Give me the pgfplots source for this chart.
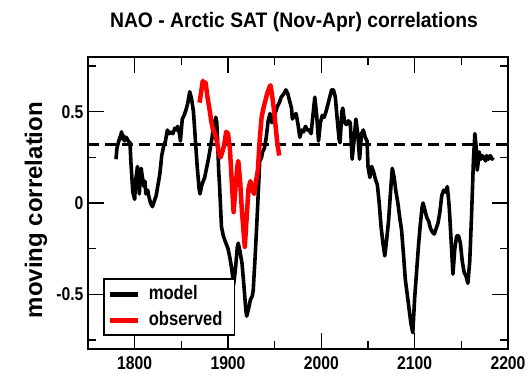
\documentclass[border=0pt]{standalone}
\usepackage{pgfplots}
\pgfplotsset{compat=1.18}
\usepackage{fontspec}
\setmainfont{Liberation Sans}
\newfontfamily\condfont{Liberation Sans}[FakeStretch=0.85]
\newfontfamily\titlefont{Liberation Sans}[FakeStretch=0.92]

\pgfplotstableread{
year r
1780 0.24
1781 0.30
1783 0.34
1785 0.37
1786 0.39
1787 0.35
1788 0.37
1789 0.34
1791 0.36
1793 0.34
1795 0.33
1796 0.22
1798 0.06
1800 0.02
1801 0.12
1803 0.20
1804 0.12
1805 0.05
1806 0.14
1807 0.19
1808 0.15
1810 0.09
1811 0.12
1812 0.05
1814 0.07
1815 0.04
1817 0.00
1819 -0.02
1821 0.01
1823 0.04
1825 0.10
1827 0.16
1829 0.26
1831 0.31
1833 0.34
1835 0.40
1837 0.38
1839 0.39
1841 0.38
1843 0.41
1845 0.40
1846 0.42
1848 0.38
1849 0.34
1851 0.46
1853 0.48
1855 0.51
1857 0.55
1859 0.61
1861 0.57
1863 0.50
1865 0.35
1867 0.20
1869 0.08
1870 0.05
1872 0.10
1875 0.14
1877 0.19
1879 0.24
1881 0.30
1883 0.36
1885 0.45
1886 0.42
1887 0.47
1888 0.44
1889 0.32
1890 0.18
1891 0.09
1893 -0.13
1895 -0.18
1897 -0.21
1900 -0.25
1902 -0.30
1904 -0.36
1906 -0.45
1908 -0.36
1910 -0.24
1911 -0.22
1913 -0.27
1915 -0.33
1917 -0.45
1919 -0.58
1920 -0.62
1922 -0.58
1924 -0.53
1926 -0.51
1927 -0.48
1929 -0.30
1931 -0.10
1933 0.12
1934 0.23
1936 0.25
1937 0.28
1939 0.30
1941 0.36
1943 0.45
1945 0.49
1947 0.44
1949 0.47
1951 0.50
1953 0.53
1955 0.55
1957 0.58
1960 0.60
1962 0.62
1964 0.60
1966 0.56
1968 0.52
1969 0.46
1971 0.48
1973 0.49
1975 0.43
1977 0.36
1979 0.40
1981 0.39
1983 0.42
1985 0.40
1987 0.40
1989 0.38
1991 0.48
1993 0.58
1995 0.48
1997 0.34
1999 0.44
2001 0.48
2003 0.47
2005 0.50
2007 0.54
2009 0.58
2011 0.62
2013 0.62
2015 0.58
2017 0.46
2019 0.35
2020 0.33
2022 0.50
2023 0.52
2025 0.44
2027 0.43
2029 0.45
2031 0.44
2033 0.24
2035 0.34
2037 0.46
2039 0.38
2041 0.24
2043 0.38
2045 0.40
2047 0.36
2049 0.34
2050 0.20
2052 0.14
2054 0.20
2056 0.17
2058 0.13
2060 0.10
2062 0.00
2064 -0.13
2066 -0.22
2068 -0.29
2070 -0.20
2072 -0.10
2074 0.05
2076 0.19
2078 0.14
2080 0.06
2082 0.00
2084 -0.08
2086 -0.15
2088 -0.28
2090 -0.42
2092 -0.50
2094 -0.58
2096 -0.66
2098 -0.71
2100 -0.52
2102 -0.38
2104 -0.24
2106 -0.12
2108 -0.02
2109 0.00
2111 -0.04
2113 -0.08
2115 -0.10
2117 -0.14
2119 -0.16
2121 -0.17
2123 -0.14
2125 -0.11
2127 -0.05
2129 0.04
2131 0.07
2133 0.06
2135 0.09
2137 -0.02
2139 -0.20
2141 -0.39
2143 -0.25
2145 -0.18
2147 -0.18
2149 -0.22
2151 -0.32
2153 -0.38
2155 -0.40
2157 -0.44
2159 -0.32
2161 -0.06
2163 0.24
2164.5 0.38
2166 0.30
2167 0.18
2168 0.22
2169 0.28
2171 0.24
2172 0.26
2174 0.25
2176 0.23
2177 0.26
2179 0.24
2181 0.26
2183 0.24
2184 0.25
}\modeldata

\pgfplotstableread{
year r
1869.5 0.55
1871 0.60
1873 0.67
1874.5 0.64
1876 0.66
1878 0.58
1880 0.52
1882 0.45
1884 0.40
1886 0.38
1888 0.34
1890 0.28
1892 0.25
1894 0.28
1896 0.32
1898 0.39
1900 0.38
1902 0.30
1904 0.12
1906 -0.05
1908 0.08
1910 0.20
1911 0.23
1913 0.12
1915 -0.05
1918 -0.24
1920 -0.08
1922 0.08
1924 0.12
1926 0.07
1928 0.05
1930 0.12
1932 0.18
1934 0.35
1936 0.47
1938 0.52
1940 0.56
1942 0.60
1944 0.63
1945.5 0.645
1947 0.60
1949 0.52
1951 0.42
1953 0.32
1955 0.26
}\obsdata

\begin{document}
\begin{tikzpicture}
\begin{axis}[
  name=ax,
  scale only axis,
  width=420bp, height=292bp,
  xmin=1750, xmax=2200,
  ymin=-0.8, ymax=0.8,
  xtick={1800,1900,2000,2100,2200},
  xticklabels={1800,1900,2000,2100,2200},
  minor xtick={1750,1850,1950,2050,2150},
  ytick={-0.5,0,0.5},
  yticklabels={-0.5,0,0.5},
  minor ytick={-0.75,-0.25,0.25,0.75},
  tick align=inside,
  major tick length=16bp,
  minor tick length=8bp,
  every tick/.style={black, line width=1.4bp},
  axis line style={line width=1.5bp},
  ticklabel style={font=\condfont\bfseries\fontsize{18.5bp}{22bp}\selectfont},
  xticklabel style={yshift=-4bp},
  yticklabel style={xshift=-1bp},
  title={NAO - Arctic SAT (Nov-Apr) correlations},
  title style={font=\titlefont\bfseries\fontsize{21bp}{25bp}\selectfont,
    at={(0.5,1)}, anchor=base, yshift=24bp, xshift=-4bp},
  ylabel={moving correlation},
  ylabel style={font=\bfseries\fontsize{24bp}{28bp}\selectfont,
    at={(axis description cs:-0.124,0.476)}, anchor=center},
  legend style={at={(axis description cs:0.036,0.045)}, anchor=south west,
    draw=black, line width=1.5bp, fill=white,
    inner xsep=4bp, inner ysep=4bp, row sep=4bp,
    font=\condfont\bfseries\fontsize{19.5bp}{22bp}\selectfont,
    nodes={inner sep=2bp, inner xsep=8bp, text height=14bp, text depth=4bp},
    cells={anchor=west}},
  legend image code/.code={\draw[#1, line width=5bp] (0bp,0bp) -- (28bp,0bp);},
]
\addplot[black, line width=2.4bp, dash pattern=on 11bp off 6bp, forget plot]
  coordinates {(1750,0.32) (2200,0.32)};
\addplot[black, line width=3.6bp, line join=round] table[x=year, y=r] {\modeldata};
\addlegendentry{model}
\addplot[red, line width=4.5bp, line join=round] table[x=year, y=r] {\obsdata};
\addlegendentry{observed}
\end{axis}
\pgfresetboundingbox
\path[use as bounding box] ([xshift=-88bp,yshift=-30bp]ax.south west)
  rectangle ([xshift=23bp,yshift=57bp]ax.north east);
\end{tikzpicture}
\end{document}
